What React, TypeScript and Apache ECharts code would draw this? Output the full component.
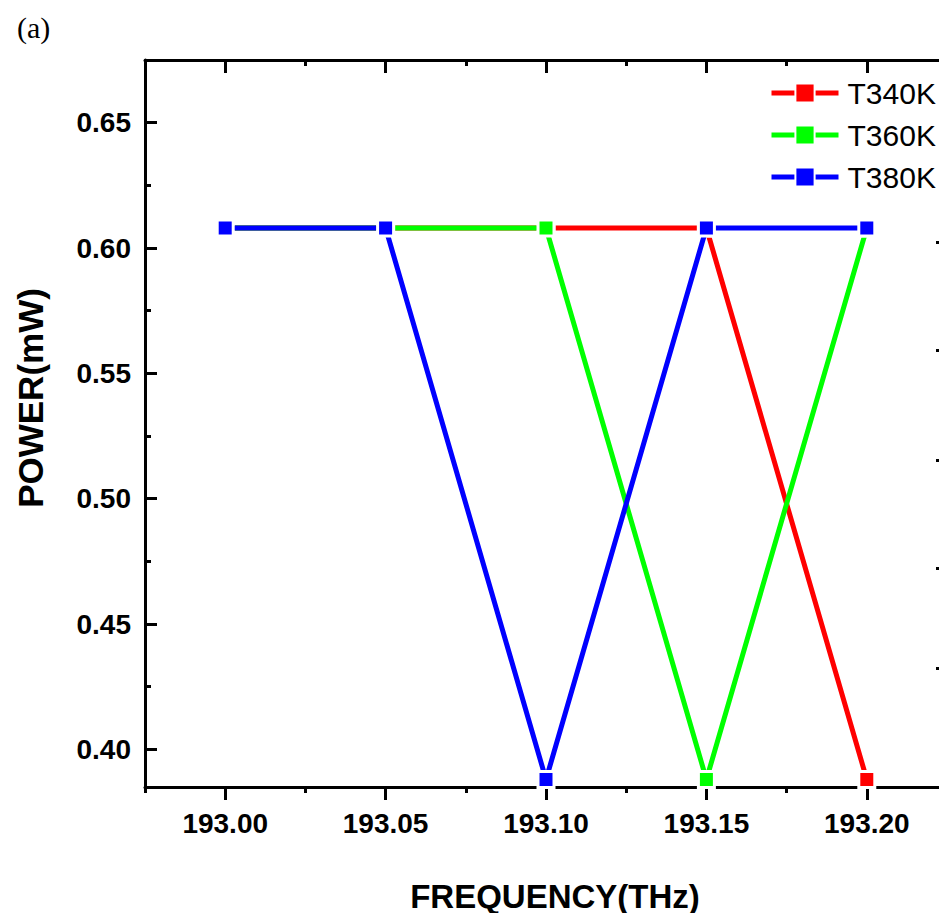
import React, { useEffect, useRef } from "react";
import * as echarts from "echarts";

const frequencies = [193.0, 193.05, 193.1, 193.15, 193.2];
const seriesNames = ["T340K", "T360K", "T380K"];
const t340 = [0.608, 0.608, 0.608, 0.608, 0.388];
const t360 = [0.608, 0.608, 0.608, 0.388, 0.608];
const t380 = [0.608, 0.608, 0.388, 0.608, 0.608];
const seriesColors = ["#ff0000", "#00ff00", "#0000ff"];

const xMajorTicks = [193.0, 193.05, 193.1, 193.15, 193.2];
const xMinorTicks = [192.975, 193.025, 193.075, 193.125, 193.175, 193.225];
const yMajorTicks = [0.4, 0.45, 0.5, 0.55, 0.6, 0.65];
const yMinorTicks = [0.425, 0.475, 0.525, 0.575, 0.625];
const rightTicks = [0.6025, 0.5591, 0.5155, 0.4721, 0.4323];

const X_MIN = 192.975;
const X_MAX = 193.225;
const Y_MIN = 0.385;
const Y_MAX = 0.675;

const FONT = "Liberation Sans, Arial, sans-serif";

export default function App() {
  const ref = useRef<HTMLDivElement>(null);

  useEffect(() => {
    if (!ref.current) return;
    const chart = echarts.init(ref.current, undefined, { renderer: "svg" });
    const values = [t340, t360, t380];

    const lineAxis = { show: true, lineStyle: { color: "#000", width: 3 } };
    const noLine = { show: false };

    const option: any = {
      animation: false,
      backgroundColor: "#fff",
      grid: { left: 145, right: 53, top: 60, bottom: 126, containLabel: false },
      legend: {
        data: seriesNames,
        orient: "vertical",
        left: 769,
        top: 78,
        padding: 0,
        itemWidth: 67,
        itemHeight: 24,
        itemGap: 12,
        lineStyle: { width: 5 },
        textStyle: { fontSize: 30, color: "#000", fontFamily: FONT, padding: [0, 0, 0, 4] },
      },
      xAxis: [
        {
          type: "value",
          position: "bottom",
          min: X_MIN,
          max: X_MAX,
          axisLine: lineAxis,
          splitLine: { show: false },
          axisTick: {
            show: true,
            inside: false,
            length: 13,
            lineStyle: { width: 3, color: "#000" },
            customValues: xMajorTicks,
          },
          axisLabel: {
            show: true,
            customValues: xMajorTicks,
            formatter: (v: number) => v.toFixed(2),
            fontSize: 28,
            fontWeight: "bold",
            color: "#000",
            fontFamily: FONT,
            margin: 22,
          },
        },
        {
          type: "value",
          position: "bottom",
          min: X_MIN,
          max: X_MAX,
          axisLine: noLine,
          splitLine: { show: false },
          axisTick: {
            show: true,
            inside: false,
            length: 6,
            lineStyle: { width: 3, color: "#000" },
            customValues: xMinorTicks,
          },
          axisLabel: { show: false },
        },
        {
          type: "value",
          position: "top",
          min: X_MIN,
          max: X_MAX,
          axisLine: lineAxis,
          splitLine: { show: false },
          axisTick: {
            show: true,
            inside: true,
            length: 13,
            lineStyle: { width: 3, color: "#000" },
            customValues: xMajorTicks,
          },
          axisLabel: { show: false },
        },
        {
          type: "value",
          position: "top",
          min: X_MIN,
          max: X_MAX,
          axisLine: noLine,
          splitLine: { show: false },
          axisTick: {
            show: true,
            inside: true,
            length: 6,
            lineStyle: { width: 3, color: "#000" },
            customValues: xMinorTicks,
          },
          axisLabel: { show: false },
        },
      ],
      yAxis: [
        {
          type: "value",
          position: "left",
          min: Y_MIN,
          max: Y_MAX,
          axisLine: lineAxis,
          splitLine: { show: false },
          axisTick: {
            show: true,
            inside: true,
            length: 12,
            lineStyle: { width: 3, color: "#000" },
            customValues: yMajorTicks,
          },
          axisLabel: {
            show: true,
            customValues: yMajorTicks,
            formatter: (v: number) => v.toFixed(2),
            fontSize: 28,
            fontWeight: "bold",
            color: "#000",
            fontFamily: FONT,
            margin: 14,
          },
        },
        {
          type: "value",
          position: "left",
          min: Y_MIN,
          max: Y_MAX,
          axisLine: noLine,
          splitLine: { show: false },
          axisTick: {
            show: true,
            inside: true,
            length: 6,
            lineStyle: { width: 3, color: "#000" },
            customValues: yMinorTicks,
          },
          axisLabel: { show: false },
        },
        {
          type: "value",
          position: "right",
          min: Y_MIN,
          max: Y_MAX,
          axisLine: lineAxis,
          splitLine: { show: false },
          axisTick: {
            show: true,
            inside: true,
            length: 11,
            lineStyle: { width: 3, color: "#000" },
            customValues: rightTicks,
          },
          axisLabel: { show: false },
        },
      ],
      graphic: [
        {
          type: "text",
          left: 17,
          top: 12,
          style: { text: "(a)", fontSize: 30, fontFamily: "Liberation Serif, Times New Roman, serif", fill: "#000" },
        },
        {
          type: "text",
          x: 555,
          y: 896,
          style: {
            text: "FREQUENCY(THz)",
            fontSize: 33,
            fontWeight: "bold",
            fontFamily: FONT,
            fill: "#000",
            align: "center",
            verticalAlign: "middle",
          },
        },
        {
          type: "text",
          x: 30,
          y: 398,
          rotation: Math.PI / 2,
          style: {
            text: "POWER(mW)",
            fontSize: 35,
            fontWeight: "bold",
            fontFamily: FONT,
            fill: "#000",
            align: "center",
            verticalAlign: "middle",
          },
        },
      ],
      series: seriesNames.map((name, si) => ({
        name,
        type: "line",
        xAxisIndex: 0,
        yAxisIndex: 0,
        clip: false,
        data: frequencies.map((f, i) => [f, values[si][i]]),
        symbol: "rect",
        symbolSize: 16,
        color: seriesColors[si],
        lineStyle: { color: seriesColors[si], width: 5 },
        itemStyle: { color: seriesColors[si], borderColor: "#fff", borderWidth: 3 },
        z: 2 + si,
      })),
    };

    chart.setOption(option);
    return () => chart.dispose();
  }, []);

  return (
    <div
      style={{
        position: "absolute",
        left: 0,
        top: 0,
        width: 939,
        height: 913,
        overflow: "hidden",
        background: "#fff",
      }}
    >
      <div ref={ref} style={{ width: 1000, height: 913 }} />
    </div>
  );
}
